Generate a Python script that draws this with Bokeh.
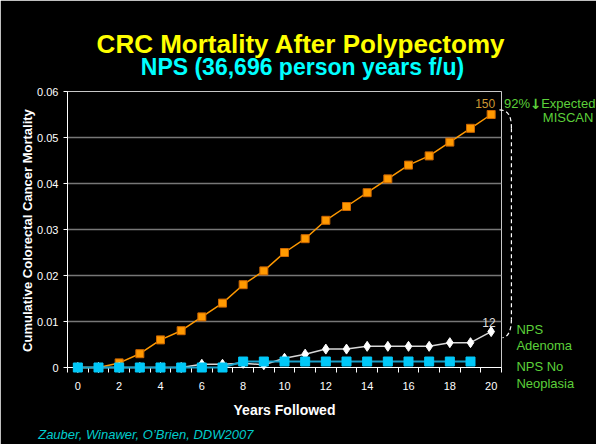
from math import pi
from bokeh.plotting import figure
from bokeh.models import Range1d, FixedTicker
from bokeh.core.properties import value
from bokeh.embed import file_html
from bokeh.resources import INLINE

# ---------------- data ----------------
years = [0, 1, 2, 3, 4, 5, 6, 7, 8, 9, 10, 11, 12, 13, 14, 15, 16, 17, 18, 19, 20]
miscan_expected = [0.0, 0.0, 0.001, 0.003, 0.006, 0.008, 0.011, 0.014, 0.018, 0.021, 0.025,
                   0.028, 0.032, 0.035, 0.038, 0.041, 0.044, 0.046, 0.049, 0.052, 0.055]
nps_adenoma = [0.0, 0.0, 0.0, 0.0, 0.0, 0.0, 0.0007, 0.0007, 0.0009, 0.0006, 0.002,
               0.0029, 0.004, 0.004, 0.0046, 0.0046, 0.0046, 0.0046, 0.0054, 0.0054, 0.0078]
years_no_neoplasia = [0, 1, 2, 3, 4, 5, 6, 7, 8, 9, 10, 11, 12, 13, 14, 15, 16, 17, 18, 19]
nps_no_neoplasia = [0.0, 0.0, 0.0, 0.0, 0.0, 0.0, 0.0, 0.0, 0.0013, 0.0013, 0.0013,
                    0.0013, 0.0013, 0.0013, 0.0013, 0.0013, 0.0013, 0.0013, 0.0013, 0.0013]
x_tick_values = [0, 2, 4, 6, 8, 10, 12, 14, 16, 18, 20]
y_tick_values = [0.0, 0.01, 0.02, 0.03, 0.04, 0.05, 0.06]
y_tick_labels = ["0", "0.01", "0.02", "0.03", "0.04", "0.05", "0.06"]
miscan_end_label = "150"
adenoma_end_label = "12"

FONT = "Liberation Sans"

p = figure(width=596, height=444, output_backend="svg", toolbar_location=None,
           x_range=Range1d(-0.5, 20.5), y_range=Range1d(0, 0.06),
           min_border_left=67, min_border_right=95, min_border_top=91, min_border_bottom=77,
           background_fill_color="black", border_fill_color="black",
           outline_line_color="#C8C8C8")

# axes
p.xaxis.ticker = FixedTicker(ticks=x_tick_values,
                             minor_ticks=[y - 0.5 for y in years] + [years[-1] + 0.5])
p.xaxis.major_tick_out = 0
p.xaxis.major_tick_in = 0
p.xaxis.minor_tick_out = 5
p.xaxis.minor_tick_in = 0
p.xaxis.minor_tick_line_color = "white"
p.xaxis.major_label_standoff = 9
p.yaxis.ticker = FixedTicker(ticks=y_tick_values)
p.yaxis.major_label_overrides = dict(zip(y_tick_values, y_tick_labels))
p.yaxis.major_tick_out = 4
p.yaxis.major_tick_in = 0
p.yaxis.minor_tick_line_color = None
for ax in (p.xaxis, p.yaxis):
    ax.axis_line_color = "white"
    ax.major_tick_line_color = "white"
    ax.major_label_text_color = "white"
    ax.major_label_text_font = FONT
    ax.major_label_text_font_size = "11px"
p.xgrid.visible = False
p.ygrid.ticker = FixedTicker(ticks=y_tick_values)
p.ygrid.grid_line_color = "#777777"
p.ygrid.grid_line_width = 1.5

# series
r = p.line(years, miscan_expected, line_color="#FF9900", line_width=1.5)
r.level = "overlay"
r = p.scatter(years, miscan_expected, marker="square", size=8, fill_color="#FF9900",
              line_color="#CC6600")
r.level = "overlay"
r = p.line(years, nps_adenoma, line_color="#D8D8D8", line_width=1.5)
r.level = "overlay"
r = p.scatter(years, nps_adenoma, marker="diamond", size=10, fill_color="white",
              line_color="white")
r.level = "overlay"
r = p.line(years_no_neoplasia, nps_no_neoplasia, line_color="#1AA0C8", line_width=2)
r.level = "overlay"
r = p.scatter(years_no_neoplasia, nps_no_neoplasia, marker="square", size=9,
              fill_color="#00C8F8", line_color="#00C8F8")
r.level = "overlay"

# dashed bracket between the end of MISCAN and NPS Adenoma
y_top = miscan_expected[-1] + 0.001
y_bot = nps_adenoma[-1] - 0.0013
xb0, xb1, xb2 = 20.40, 20.98, 20.55
p.bezier(x0=[xb0, xb1], y0=[y_top, y_bot + 0.004], x1=[xb1, xb2], y1=[y_top - 0.004, y_bot],
         cx0=[20.85, xb1], cy0=[y_top, y_bot + 0.0015], cx1=[xb1, 20.8], cy1=[y_top - 0.0015, y_bot],
         line_color="white", line_width=1.2, line_dash="4 3", level="overlay")
p.segment(x0=[xb1], y0=[y_top - 0.004], x1=[xb1], y1=[y_bot + 0.004],
          line_color="white", line_width=1.2, line_dash="4 3", level="overlay")


def lab(x, y, text, size, color, style="normal", align="left", angle=0.0, font=FONT):
    p.text(x=[x], y=[y], text=[text], text_font=value(font), text_font_size=value(size),
           text_color=color, text_font_style=style, text_align=align,
           text_baseline="alphabetic", angle=angle, level="overlay")


# end-point labels
lab(years[-1] - 0.29, miscan_expected[-1] + 0.0024, miscan_end_label, "12px", "#CC9933", align="center")
lab(years[-1] - 0.11, nps_adenoma[-1] + 0.0019, adenoma_end_label, "12px", "#DDDDDD", align="center")

# right side labels
GREEN = "#5CD03A"
lab(20.62, 0.05739, "92%", "13px", GREEN)
lab(22.15, 0.05739, "\u2193", "14px", GREEN, "bold", "center", font="DejaVu Sans")
lab(22.42, 0.05739, "Expected", "13px", GREEN)
lab(22.50, 0.05428, "MISCAN", "13px", GREEN)
lab(21.22, 0.0082, "NPS", "13px", GREEN)
lab(21.22, 0.00478, "Adenoma", "13px", GREEN)
lab(21.22, 0.00022, "NPS No", "13px", GREEN)
lab(21.22, -0.0034, "Neoplasia", "13px", GREEN)

# titles and axis titles
lab(10.80, 0.07043, "CRC Mortality After Polypectomy", "26px", "#FFFF00", "bold", "center")
lab(10.87, 0.06543, "NPS (36,696 person years f/u)", "23px", "#00FFFF", "bold", "center")
lab(10.0, -0.0092, "Years Followed", "14px", "white", "bold", "center")
lab(-2.435, 0.02978, "Cumulative Colorectal Cancer Mortality", "13px", "white", "bold", "center", pi / 2)
lab(-1.918, -0.01463, "Zauber, Winawer, O\u2019Brien, DDW2007", "13px", "#00CCCC", "italic")

open("out.html", "w").write(file_html(p, INLINE))
